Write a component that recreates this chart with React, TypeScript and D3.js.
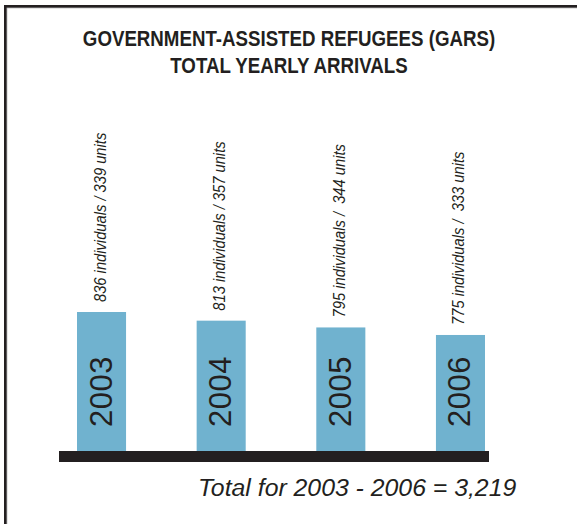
import React from "react";
import * as d3 from "d3";

const years = ["2003", "2004", "2005", "2006"];
const individuals = [836, 813, 795, 775];
const units = [339, 357, 344, 333];
const labelSeparators = [" / ", " / ", " /  ", " /  "];
const titleLines = ["GOVERNMENT-ASSISTED REFUGEES (GARS)", "TOTAL YEARLY ARRIVALS"];
const totalText = "Total for 2003 - 2006 = 3,219";

const W = 577;
const H = 524;
const BLUE = "#70b2cf";
const DARK = "#231f20";
const SANS = "'Liberation Sans', Arial, sans-serif";

export default function App() {
  const baseY = 451;
  const x = d3.scaleBand<string>().domain(years).range([77, 485]).paddingInner(0.59).paddingOuter(0);
  const y = d3.scaleLinear().domain([467, 836]).range([baseY, 312]);
  const bw = x.bandwidth();

  return (
    <svg width={W} height={H} style={{ position: "absolute", left: 0, top: 0, background: "#fff" }}>
      <rect x={0} y={0} width={W} height={H} fill="#fff" />
      <rect x={5.5} y={6.5} width={700} height={700} fill="none" stroke={DARK} strokeWidth={3} />
      <rect x={7} y={8} width={700} height={700} fill="none" stroke="#bbb" strokeWidth={0.8} />
      {titleLines.map((t, i) => (
        <text
          key={t}
          transform={`translate(289,${46 + i * 27}) scale(0.85,1)`}
          textAnchor="middle"
          fontFamily={SANS}
          fontWeight="bold"
          fontSize={22}
          fill={DARK}
        >
          {t}
        </text>
      ))}
      {years.map((yr, i) => {
        const cx = (x(yr) as number) + bw / 2;
        const top = y(individuals[i]);
        return (
          <g key={yr}>
            <rect x={x(yr)} y={top} width={bw} height={baseY - top} fill={BLUE} />
            <text
              transform={`translate(${cx + 10},${baseY - 24}) rotate(-90)`}
              fontFamily={SANS}
              fontSize={31}
              letterSpacing={0.5}
              fill={DARK}
            >
              {yr}
            </text>
            <text
              transform={`translate(${cx + 4},${top - 10}) rotate(-90) scale(0.92,1)`}
              fontFamily={SANS}
              fontStyle="italic"
              fontSize={16}
              fill={DARK}
              style={{ whiteSpace: "pre" }}
            >
              {`${individuals[i]} individuals${labelSeparators[i]}${units[i]} units`}
            </text>
          </g>
        );
      })}
      <rect x={59} y={baseY} width={430} height={11} fill={DARK} />
      <text x={198} y={496} fontFamily={SANS} fontStyle="italic" fontSize={24.8} fill={DARK}>
        {totalText}
      </text>
    </svg>
  );
}
